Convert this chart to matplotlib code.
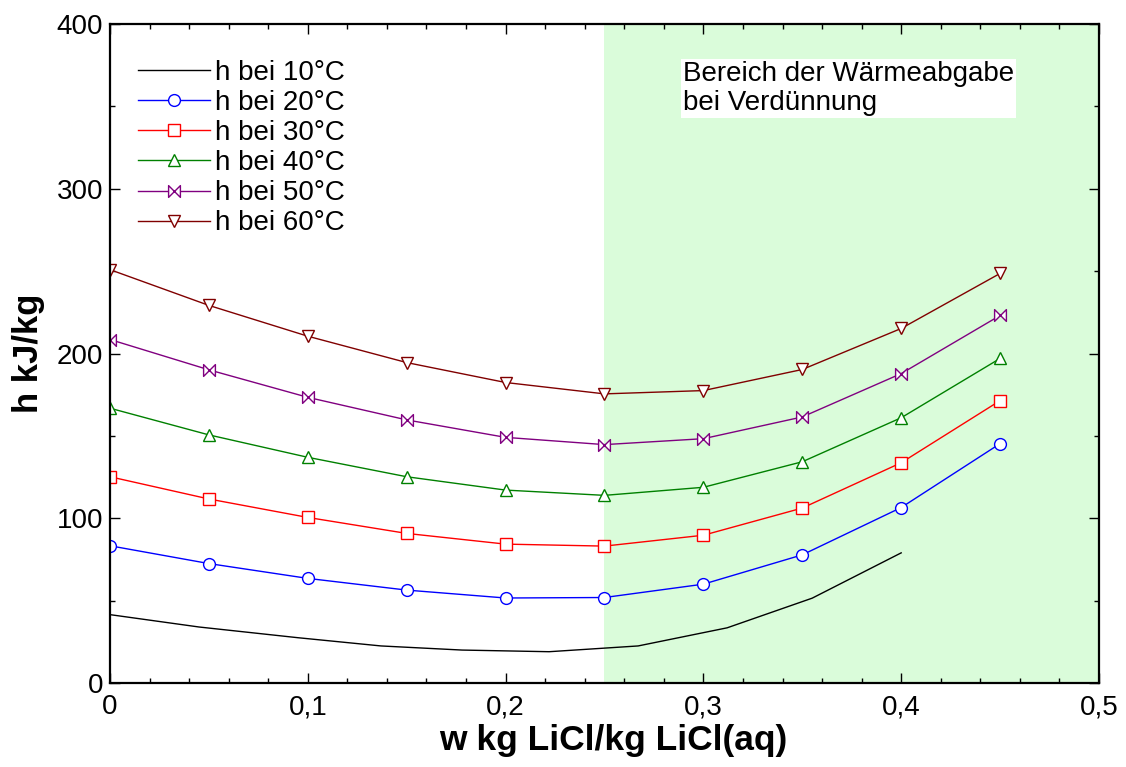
import numpy as np
from matplotlib import pyplot as plt
from matplotlib.path import Path
from matplotlib.ticker import MultipleLocator, FuncFormatter

plt.rcParams['font.family'] = ['Liberation Sans', 'DejaVu Sans']

# mass fraction LiCl
w = [0, 0.05, 0.1, 0.15, 0.2, 0.25, 0.3, 0.35, 0.4, 0.45]

# 10 degC curve has its own points and stops at 0.4
w10 = [0, 0.045, 0.095, 0.137, 0.178, 0.222, 0.267, 0.312, 0.355, 0.4]
h10 = [41.5, 34, 27.5, 22.5, 20, 19, 22.5, 33.5, 51.5, 79]

h20 = [83.3, 72.5, 63.5, 56.4, 51.6, 51.9, 60.0, 77.8, 106.5, 145.3]
h30 = [125.2, 111.7, 100.5, 90.8, 84.3, 83.1, 89.7, 106.2, 133.7, 171.4]
h40 = [166.8, 150.6, 137.0, 125.2, 117.1, 113.9, 118.8, 134.3, 161.0, 197.0]
h50 = [208.5, 190.1, 173.4, 159.7, 149.1, 144.7, 148.3, 161.5, 187.8, 223.1]
h60 = [250.9, 229.2, 210.5, 194.5, 182.4, 175.5, 177.5, 190.3, 215.2, 248.6]

labels = ['h bei 10°C', 'h bei 20°C', 'h bei 30°C', 'h bei 40°C',
          'h bei 50°C', 'h bei 60°C']

# bowtie marker for 50 degC
bowtie = Path([(-1, 1), (1, -1), (1, 1), (-1, -1), (-1, 1)],
              [Path.MOVETO, Path.LINETO, Path.LINETO, Path.LINETO, Path.CLOSEPOLY])

fig = plt.figure(figsize=(11.26, 7.67), dpi=100)
ax = fig.add_axes([0.0977, 0.1095, 0.8783, 0.8592])

# region of heat release
ax.axvspan(0.25, 0.5, color='#dafcda', zorder=0, lw=0)

ax.plot(w10, h10, color='black', lw=1.0, label=labels[0])
series = [(h20, '#0000ff', 'o'), (h30, '#ff0000', 's'), (h40, '#008000', '^'),
          (h50, '#800080', bowtie), (h60, '#800000', 'v')]
for (h, c, m), lab in zip(series, labels[1:]):
    ax.plot(w, h, color=c, lw=1.0, marker=m, markersize=8.5 if m != 's' else 8,
            markerfacecolor='white', markeredgecolor=c, markeredgewidth=1.0,
            label=lab)

ax.set_xlim(0, 0.5)
ax.set_ylim(0, 400)
ax.xaxis.set_major_locator(MultipleLocator(0.1))
ax.xaxis.set_minor_locator(MultipleLocator(0.02))
ax.yaxis.set_major_locator(MultipleLocator(100))
ax.yaxis.set_minor_locator(MultipleLocator(50))

def comma_fmt(v, pos):
    if abs(v) < 1e-9:
        return '0'
    return ('%.1f' % v).replace('.', ',')

ax.xaxis.set_major_formatter(FuncFormatter(comma_fmt))
ax.tick_params(which='both', direction='in', top=True, right=True, width=1.0,
               labelsize=20)
ax.tick_params(which='major', length=7)
ax.tick_params(which='minor', length=3.5)
ax.tick_params(axis='x', pad=8)
ax.tick_params(axis='y', pad=5)
for s in ax.spines.values():
    s.set_linewidth(1.6)

ax.set_xlabel('w kg LiCl/kg LiCl(aq)', fontsize=25.5, fontweight='bold', labelpad=2)
ax.xaxis.set_label_coords(0.509, -0.062)
ax.set_ylabel('h kJ/kg', fontsize=25, fontweight='bold', labelpad=8)

ax.text(0.2895, 377.5, 'Bereich der Wärmeabgabe\nbei Verdünnung', fontsize=20,
        va='top', ha='left', linespacing=1.13,
        bbox=dict(facecolor='white', edgecolor='none', pad=1.5))

ax.legend(loc='upper left', bbox_to_anchor=(0.028, 0.946), frameon=False,
          fontsize=20, handlelength=2.6, handletextpad=0.18, labelspacing=0.15,
          borderpad=0, borderaxespad=0)

plt.savefig('out.png', dpi=100)
